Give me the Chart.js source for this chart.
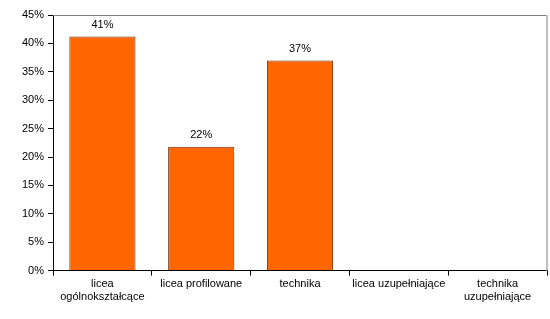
<!DOCTYPE html>
<html>
<head>
<meta charset="utf-8">
<script src="https://cdn.jsdelivr.net/npm/chart.js@4"></script>
<style>
  html, body { margin: 0; padding: 0; background: #fff; }
  #wrap { width: 550px; height: 319px; }
</style>
</head>
<body>
<div id="wrap"><canvas id="chart"></canvas></div>
<script>
const categories = [
    ['licea', 'ogólnokształcące'],
    'licea profilowane',
    'technika',
    'licea uzupełniające',
    ['technika', 'uzupełniające'],
]
const shares = [41.2, 21.8, 37.0, 0, 0]
const shareLabels = ['41%', '22%', '37%', '', '']

const font = { family: '"Liberation Sans", Arial, sans-serif', size: 11 }

// value labels above bars + top/right frame of plot area
const extras = {
    id: 'extras',
    afterDatasetsDraw(chart) {
        const ctx = chart.ctx
        const area = chart.chartArea
        ctx.save()
        ctx.strokeStyle = '#808080'
        ctx.lineWidth = 1
        ctx.beginPath()
        ctx.moveTo(area.left, area.top + 0.5)
        ctx.lineTo(area.right + 0.5, area.top + 0.5)
        ctx.stroke()
        ctx.strokeStyle = '#c0c0c0'
        ctx.lineWidth = 2
        ctx.beginPath()
        ctx.moveTo(area.right, area.top)
        ctx.lineTo(area.right, area.bottom)
        ctx.stroke()

        ctx.fillStyle = '#000'
        ctx.font = `${font.size}px ${font.family}`
        ctx.textAlign = 'center'
        ctx.textBaseline = 'bottom'
        chart.getDatasetMeta(0).data.forEach((bar, i) => {
            if (shareLabels[i]) ctx.fillText(shareLabels[i], bar.x, bar.y - 6)
        })
        ctx.restore()
    },
}

new Chart(document.getElementById('chart'), {
    type: 'bar',
    data: {
        labels: categories,
        datasets: [{
            data: shares,
            backgroundColor: '#ff6600',
            borderColor: '#6b3410',
            borderWidth: 1,
            categoryPercentage: 1,
            barPercentage: 0.67,
        }],
    },
    options: {
        responsive: true,
        maintainAspectRatio: false,
        animation: false,
        layout: { padding: { top: 15, right: 3, left: 18, bottom: 13 } },
        plugins: {
            legend: { display: false },
            tooltip: { enabled: false },
        },
        scales: {
            x: {
                grid: {
                    offset: true,
                    drawOnChartArea: false,
                    drawTicks: true,
                    tickLength: 5,
                    color: '#000',
                },
                border: { color: '#000', width: 1 },
                ticks: { color: '#000', font, maxRotation: 0, autoSkip: false, padding: 2 },
            },
            y: {
                min: 0,
                max: 45,
                grid: {
                    drawOnChartArea: false,
                    drawTicks: true,
                    tickLength: 5,
                    color: '#000',
                },
                border: { color: '#000', width: 1 },
                ticks: {
                    stepSize: 5,
                    color: '#000',
                    font,
                    padding: 4,
                    callback: (v) => v + '%',
                },
            },
        },
    },
    plugins: [extras],
})
</script>
</body>
</html>
